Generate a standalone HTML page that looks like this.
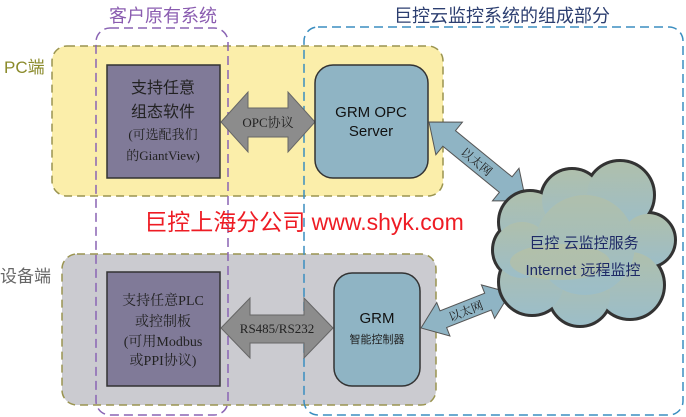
<!DOCTYPE html>
<html><head><meta charset="utf-8"><style>
body{margin:0;background:#fff;}
svg{display:block;font-family:"Liberation Sans","Noto Sans CJK SC",sans-serif;}
.s{font-family:"Liberation Serif","Noto Serif CJK SC",serif;}
</style></head><body>
<svg width="686" height="417" viewBox="0 0 686 417">
<defs>
<linearGradient id="cg" x1="0" y1="0" x2="0" y2="1">
<stop offset="0" stop-color="#afbfac"/><stop offset="1" stop-color="#9cbec8"/>
</linearGradient>
</defs>
<rect x="52" y="46" width="391" height="150" rx="15" fill="#fbeeaa" stroke="#9a9450" stroke-width="1.5" stroke-dasharray="8,5"/>
<rect x="62" y="254" width="374" height="151" rx="15" fill="#cbcbd0" stroke="#9a9450" stroke-width="1.5" stroke-dasharray="8,5"/>
<rect x="96" y="28" width="132" height="387" rx="14" fill="none" stroke="#8a64b4" stroke-width="1.5" stroke-dasharray="9,5"/>
<rect x="304" y="27" width="379" height="388" rx="14" fill="none" stroke="#3b8ec0" stroke-width="1.5" stroke-dasharray="9,5"/>
<text x="163" y="22" font-size="18" fill="#8a5cb0" text-anchor="middle">客户原有系统</text>
<text x="502" y="22" font-size="18" fill="#2c3e70" text-anchor="middle">巨控云监控系统的组成部分</text>
<text x="4" y="73" font-size="17" fill="#8a8a2a">PC端</text>
<text x="0" y="282" font-size="17" fill="#666">设备端</text>
<rect x="107" y="65" width="113" height="113" fill="#807a98" stroke="#333" stroke-width="1.5"/>
<text x="163" y="93" font-size="16" fill="#222" text-anchor="middle">支持任意</text>
<text x="163" y="117" font-size="16" fill="#222" text-anchor="middle">组态软件</text>
<text x="163" y="139" font-size="13" fill="#222" text-anchor="middle" class="s">(可选配我们</text>
<text x="163" y="160" font-size="13" fill="#222" text-anchor="middle" class="s">的GiantView)</text>
<rect x="107" y="272" width="113" height="114" fill="#807a98" stroke="#333" stroke-width="1.5"/>
<text x="163" y="305" font-size="14" fill="#222" text-anchor="middle" class="s">支持任意PLC</text>
<text x="163" y="326" font-size="14" fill="#222" text-anchor="middle" class="s">或控制板</text>
<text x="163" y="346" font-size="14" fill="#222" text-anchor="middle" class="s">(可用Modbus</text>
<text x="163" y="365" font-size="14" fill="#222" text-anchor="middle" class="s">或PPI协议)</text>
<polygon points="221,122 248,92 248,108 288,108 288,92 315,122 288,152 288,137 248,137 248,152" fill="#8c8c8c" stroke="#666" stroke-width="1"/>
<text x="268" y="127" font-size="13" fill="#222" text-anchor="middle" class="s">OPC协议</text>
<polygon points="221,328 250,298 250,315 304,315 304,298 333,328 304,358 304,343 250,343 250,358" fill="#8c8c8c" stroke="#666" stroke-width="1"/>
<text x="277" y="333" font-size="13" fill="#222" text-anchor="middle" class="s">RS485/RS232</text>
<rect x="315" y="65" width="113" height="113" rx="18" fill="#8fb4c4" stroke="#333" stroke-width="1.5"/>
<text x="371" y="117" font-size="15" fill="#111" text-anchor="middle">GRM OPC</text>
<text x="371" y="136" font-size="15" fill="#111" text-anchor="middle">Server</text>
<rect x="334" y="273" width="86" height="113" rx="18" fill="#8fb4c4" stroke="#333" stroke-width="1.5"/>
<text x="377" y="323" font-size="15" fill="#111" text-anchor="middle">GRM</text>
<text x="377" y="343" font-size="11" fill="#222" text-anchor="middle">智能控制器</text>
<g transform="translate(429,122) rotate(39.2)">
<polygon points="0,0 26,-21 26,-10 99,-10 99,-21 125,0 99,21 99,10 26,10 26,21" fill="#8fb4c4" stroke="#555" stroke-width="1"/>
<text x="62" y="5" font-size="12" fill="#222" text-anchor="middle" class="s">以太网</text>
</g>
<g transform="translate(421,328) rotate(-21.5)">
<polygon points="0,0 24,-18 24,-9 72,-9 72,-18 96,0 72,18 72,9 24,9 24,18" fill="#8fb4c4" stroke="#555" stroke-width="1"/>
<text x="48" y="5" font-size="12" fill="#222" text-anchor="middle" class="s">以太网</text>
</g>
<g stroke="#333" stroke-width="6" fill="#333">
<circle cx="530" cy="222" r="30"/><circle cx="572" cy="200" r="30"/><circle cx="620" cy="195" r="33"/>
<circle cx="648" cy="240" r="26"/><circle cx="630" cy="285" r="33"/><circle cx="580" cy="295" r="30"/>
<circle cx="532" cy="282" r="32"/><circle cx="522" cy="250" r="28"/><circle cx="585" cy="245" r="50"/>
</g>
<g fill="url(#cg)">
<circle cx="530" cy="222" r="30"/><circle cx="572" cy="200" r="30"/><circle cx="620" cy="195" r="33"/>
<circle cx="648" cy="240" r="26"/><circle cx="630" cy="285" r="33"/><circle cx="580" cy="295" r="30"/>
<circle cx="532" cy="282" r="32"/><circle cx="522" cy="250" r="28"/><circle cx="585" cy="245" r="50"/>
</g>
<ellipse cx="560" cy="262" rx="50" ry="18" fill="#c2c096" opacity="0.45"/>
<text x="584" y="248" font-size="15" fill="#1e2a66" text-anchor="middle">巨控 云监控服务</text>
<text x="583" y="275" font-size="15" fill="#1e2a66" text-anchor="middle">Internet 远程监控</text>
<text x="304" y="230" font-size="23" fill="#ee1c24" text-anchor="middle">巨控上海分公司 www.shyk.com</text>
</svg>
</body></html>
